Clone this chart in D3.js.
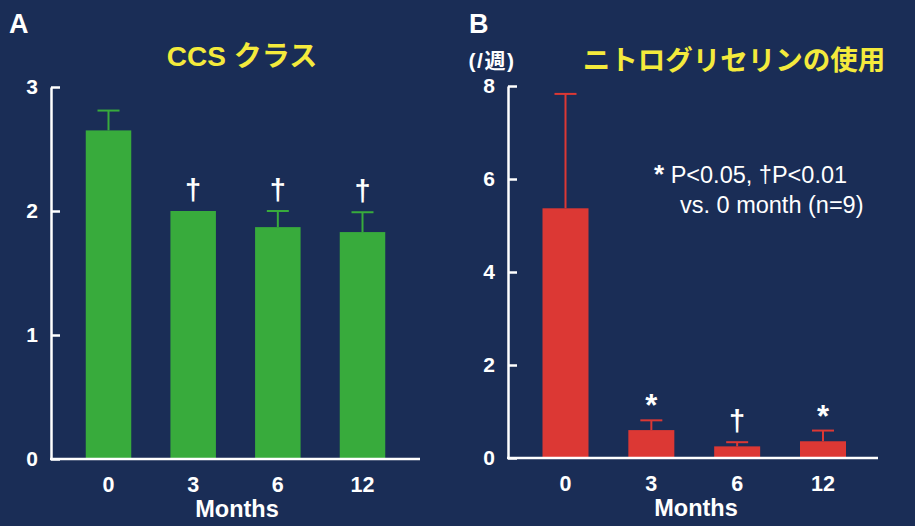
<!DOCTYPE html>
<html>
<head>
<meta charset="utf-8">
<script src="https://cdn.jsdelivr.net/npm/d3@7"></script>
<style>
  html, body { margin: 0; padding: 0; background: #1a2d56; }
  svg { display: block; }
</style>
</head>
<body>
<svg id="chart" width="915" height="526"></svg>
<script>
// Months after start of treatment
const months = ["0", "3", "6", "12"];

// Panel A: CCS class (mean and SD)
const ccsMean = [2.65, 2.0, 1.87, 1.83];
const ccsSD = [0.16, 0, 0.13, 0.16];
const ccsMarks = ["", "†", "†", "†"];
const ccsTicks = [0, 1, 2, 3];

// Panel B: nitroglycerin use per week (mean and SD)
const ntgMean = [5.37, 0.60, 0.25, 0.36];
const ntgSD = [2.46, 0.21, 0.09, 0.23];
const ntgMarks = ["", "*", "†", "*"];
const ntgTicks = [0, 2, 4, 6, 8];

const svg = d3.select("#chart");
const LATIN = "'Liberation Sans', Arial, sans-serif";
const CJK = "'Liberation Sans', 'Noto Sans CJK JP', sans-serif";

function panel(opts) {
  const g = svg.append("g");
  const y = d3.scaleLinear().domain(opts.domain).range([opts.y0, opts.y1]);
  const x = d3.scalePoint().domain(months).range(opts.xr);

  // bars
  g.selectAll("rect.bar").data(months).join("rect")
    .attr("class", "bar")
    .attr("x", (d) => x(d) - opts.barW / 2)
    .attr("width", opts.barW)
    .attr("y", (d, i) => y(opts.mean[i]))
    .attr("height", (d, i) => y(0) - y(opts.mean[i]))
    .attr("fill", opts.color);

  // error bars (upper whisker only)
  months.forEach((m, i) => {
    if (!opts.sd[i]) return;
    const top = y(opts.mean[i] + opts.sd[i]);
    g.append("line")
      .attr("x1", x(m)).attr("x2", x(m))
      .attr("y1", y(opts.mean[i])).attr("y2", top)
      .attr("stroke", opts.color).attr("stroke-width", 2);
    g.append("line")
      .attr("x1", x(m) - 11).attr("x2", x(m) + 11)
      .attr("y1", top).attr("y2", top)
      .attr("stroke", opts.color).attr("stroke-width", 2);
  });

  // significance marks above each bar
  months.forEach((m, i) => {
    if (!opts.marks[i]) return;
    const top = y(opts.mean[i] + opts.sd[i]);
    const star = opts.marks[i] === "*";
    g.append("text")
      .attr("x", x(m))
      .attr("y", top - (star ? 4 : 11))
      .attr("text-anchor", "middle")
      .attr("fill", "#ffffff")
      .attr("font-family", LATIN)
      .attr("font-weight", "bold")
      .attr("font-size", star ? 31 : 29)
      .text(opts.marks[i]);
  });

  // y axis with inward ticks
  const yAxis = d3.axisLeft(y).tickValues(opts.ticks)
    .tickSizeInner(-9).tickSizeOuter(0).tickPadding(13)
    .tickFormat(d3.format("d"));
  const ya = g.append("g").attr("transform", `translate(${opts.ax},0)`).call(yAxis);
  ya.select(".domain").attr("stroke", "#ffffff").attr("stroke-width", 2.5);
  ya.selectAll(".tick line").attr("stroke", "#ffffff").attr("stroke-width", 2.5);
  ya.selectAll(".tick text")
    .attr("fill", "#ffffff")
    .attr("font-family", LATIN)
    .attr("font-weight", "bold")
    .attr("font-size", 21);

  // baseline
  g.append("line")
    .attr("x1", opts.ax - 1).attr("x2", opts.xEnd)
    .attr("y1", y(0)).attr("y2", y(0))
    .attr("stroke", "#ffffff").attr("stroke-width", 2.5);

  // month labels
  g.selectAll("text.mlab").data(months).join("text")
    .attr("class", "mlab")
    .attr("x", (d) => x(d))
    .attr("y", y(0) + 33)
    .attr("text-anchor", "middle")
    .attr("fill", "#ffffff")
    .attr("font-family", LATIN)
    .attr("font-weight", "bold")
    .attr("font-size", 21.5)
    .text((d) => d);

  g.append("text")
    .attr("x", opts.monthsX)
    .attr("y", y(0) + 58)
    .attr("text-anchor", "middle")
    .attr("fill", "#ffffff")
    .attr("font-family", LATIN)
    .attr("font-weight", "bold")
    .attr("font-size", 23.5)
    .text("Months");

  // panel letter
  g.append("text")
    .attr("x", opts.letterX).attr("y", 33)
    .attr("fill", "#ffffff")
    .attr("font-family", LATIN)
    .attr("font-weight", "bold")
    .attr("font-size", 27)
    .text(opts.letter);

  // title
  g.append("text")
    .attr("x", opts.titleX).attr("y", opts.titleY)
    .attr("text-anchor", "middle")
    .attr("fill", "#f4ea3c")
    .attr("font-family", CJK)
    .attr("font-weight", "bold")
    .attr("font-size", opts.titleSize)
    .text(opts.title);

  return g;
}

panel({
  letter: "A", letterX: 9,
  title: "CCS クラス", titleX: 242, titleY: 66, titleSize: 28,
  domain: [0, 3], y0: 459, y1: 87, ticks: ccsTicks,
  mean: ccsMean, sd: ccsSD, marks: ccsMarks,
  xr: [108.5, 362.5], barW: 45.5, ax: 51, xEnd: 420, monthsX: 237,
  color: "#38ab3c"
});

const pb = panel({
  letter: "B", letterX: 469,
  title: "ニトログリセリンの使用", titleX: 734, titleY: 70, titleSize: 27.5,
  domain: [0, 8], y0: 458, y1: 86, ticks: ntgTicks,
  mean: ntgMean, sd: ntgSD, marks: ntgMarks,
  xr: [565.5, 823], barW: 46, ax: 508, xEnd: 878, monthsX: 696,
  color: "#dc3834"
});

// unit label for panel B
pb.append("text")
  .attr("x", 492).attr("y", 68)
  .attr("text-anchor", "middle")
  .attr("fill", "#ffffff")
  .attr("font-family", CJK)
  .attr("font-weight", "bold")
  .attr("font-size", 21)
  .attr("letter-spacing", 1.5)
  .text("(/週)");

// significance legend
const legend = pb.append("g")
  .attr("fill", "#ffffff")
  .attr("font-family", LATIN)
  .attr("font-size", 23.5);
const line1 = legend.append("text").attr("x", 654).attr("y", 183);
line1.append("tspan").attr("font-weight", "bold").attr("font-size", 26).text("*");
line1.append("tspan").text(" P<0.05, †P<0.01");
legend.append("text").attr("x", 680).attr("y", 213).text("vs. 0 month (n=9)");
</script>
</body>
</html>
